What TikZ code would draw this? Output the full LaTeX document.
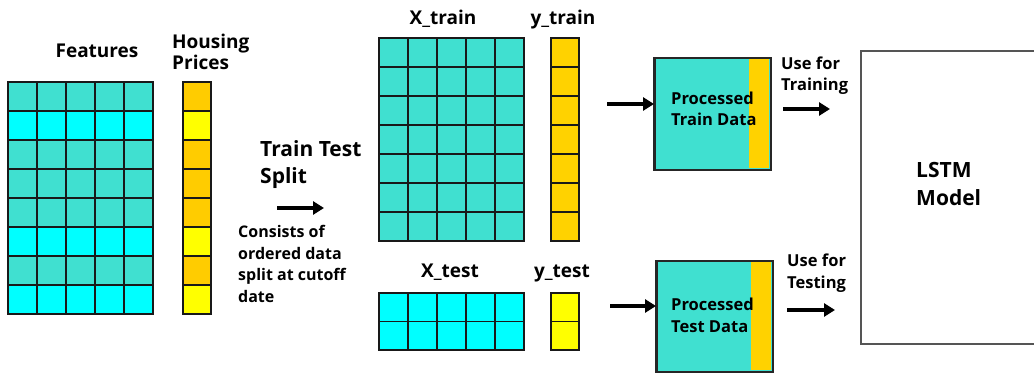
\documentclass[tikz,border=0pt]{standalone}
\usepackage{fontspec}
\setmainfont{Open Sans}
\usetikzlibrary{arrows.meta}
\definecolor{teal1}{HTML}{40E0D0}
\definecolor{cyan1}{HTML}{00FFFF}
\definecolor{gold1}{HTML}{FFCC00}
\definecolor{gold2}{HTML}{FFD200}
\definecolor{yell1}{HTML}{FFFF00}
\definecolor{boxline}{HTML}{555555}
\tikzset{
  cellline/.style={draw=black!90,line width=1.5pt},
  lbl/.style={font=\bfseries\fontsize{19}{22}\selectfont,inner sep=0pt},
  biglbl/.style={font=\bfseries\fontsize{21}{24}\selectfont,inner sep=0pt},
  smalllbl/.style={font=\bfseries\fontsize{16}{21.5}\selectfont,inner sep=0pt},
  midlbl/.style={font=\bfseries\fontsize{16.5}{21}\selectfont,inner sep=0pt},
  fatarrow/.style={line width=3.2pt,-{Triangle[length=11pt,width=13pt]}},
  procbox/.style={draw=black!85,line width=1.5pt,fill=teal1,inner sep=0pt,minimum width=116pt,minimum height=111pt}
}
% \gridcells{x0}{y0}{cw}{ncols}{list of row colours}
\newcommand{\gridcells}[5]{%
  \foreach \c [count=\r from 0] in {#5}{%
    \foreach \k in {1,...,#4}{%
      \filldraw[fill=\c,cellline]
        ({#1+(\k-1)*#3},{#2+\r*29}) rectangle ++(#3,29);
    }%
  }%
}
\begin{document}
\begin{tikzpicture}[x=1pt,y=-1pt]
\useasboundingbox (0,0) rectangle (1034,390);
\fill[white] (0,0) rectangle (1034,390);

% Features grid and housing prices
\gridcells{8}{82}{29}{5}{teal1,cyan1,teal1,teal1,teal1,cyan1,teal1,cyan1}
\gridcells{183}{82}{28}{1}{gold1,yell1,gold1,gold1,gold1,yell1,gold1,yell1}
\node[lbl,anchor=base] (featl) at (97,58) {Features};
\node[lbl,anchor=base west] (house1) at (172,49) {Housing};
\node[lbl,anchor=base west] (house2) at (172,70) {Prices};

% Train test split
\node[biglbl,anchor=base west] (tts1) at (260,157) {Train Test};
\node[biglbl,anchor=base west] (tts2) at (260,184) {Split};
\coordinate (sa) at (277,208);
\coordinate (sb) at (324,208);
\draw[fatarrow] (sa) -- (sb);
\node[smalllbl,anchor=base west] (cons1) at (238,238) {Consists of};
\node[smalllbl,anchor=base west] (cons2) at (238,259.5) {ordered data};
\node[smalllbl,anchor=base west] (cons3) at (238,281) {split at cutoff};
\node[smalllbl,anchor=base west] (cons4) at (238,302.5) {date};

% X_train / y_train
\foreach \r in {0,...,6}{
  \foreach \k in {1,...,5}{
    \filldraw[fill=teal1,cellline] ({379+(\k-1)*29},{38+\r*29}) rectangle ++(29,29);
  }
  \filldraw[fill=gold2,cellline] (551,{38+\r*29}) rectangle ++(28,29);
}
\node[lbl,anchor=base] (xtr) at (443,25) {X\_train};
\node[lbl,anchor=base] (ytr) at (563,25) {y\_train};

% X_test / y_test
\foreach \r in {0,1}{
  \foreach \k in {1,...,5}{
    \filldraw[fill=cyan1,cellline] ({379+(\k-1)*29},{293+\r*28.5}) rectangle ++(29,28.5);
  }
  \filldraw[fill=yell1,cellline] (551,{293+\r*28.5}) rectangle ++(28,28.5);
}
\node[lbl,anchor=base] (xte) at (450,278) {X\_test};
\node[lbl,anchor=base] (yte) at (562,278) {y\_test};

% Processed boxes
\node[procbox,anchor=north west] (ptrain) at (654,58) {};
\fill[gold2] (749,59) rectangle (769.3,168.3);
\draw[black!85,line width=1.5pt] (ptrain.north west) rectangle (ptrain.south east);
\node[midlbl,anchor=base west] (ptrt1) at (671,105) {Processed};
\node[midlbl,anchor=base west] (ptrt2) at (671,126) {Train Data};

\node[procbox,anchor=north west,minimum height=110pt] (ptest) at (656,261) {};
\fill[gold2] (751,262) rectangle (771.3,370.3);
\draw[black!85,line width=1.5pt] (ptest.north west) rectangle (ptest.south east);
\node[midlbl,anchor=base west] (ptet1) at (671,311) {Processed};
\node[midlbl,anchor=base west] (ptet2) at (671,332) {Test Data};

\coordinate (ina) at (607,104);
\draw[fatarrow] (ina) -- (ptrain.west |- ina);
\coordinate (inb) at (610,306);
\draw[fatarrow] (inb) -- (ptest.west |- inb);

% LSTM model box (open to the right, cut by the frame)
\coordinate (lstmtr) at (1036,51);
\coordinate (lstmtl) at (861,51);
\coordinate (lstmbl) at (861,344);
\coordinate (lstmbr) at (1036,344);
\draw[boxline,line width=1.8pt] (lstmtr) -- (lstmtl) -- (lstmbl) -- (lstmbr);
\node[biglbl,anchor=base west] (lstm1) at (916,178) {LSTM};
\node[biglbl,anchor=base west] (lstm2) at (916,206) {Model};

% Use for labels and arrows
\node[midlbl,anchor=base west] (uft1) at (781,70) {Use for};
\node[midlbl,anchor=base west] (uft2) at (781,91) {Training};
\coordinate (oa) at (783,109);
\coordinate (ob) at (830,109);
\draw[fatarrow] (oa) -- (ob);

\node[midlbl,anchor=base west] (ufe1) at (787,267) {Use for};
\node[midlbl,anchor=base west] (ufe2) at (787,288) {Testing};
\coordinate (oc) at (787,310);
\coordinate (od) at (835,310);
\draw[fatarrow] (oc) -- (od);
\end{tikzpicture}
\end{document}
